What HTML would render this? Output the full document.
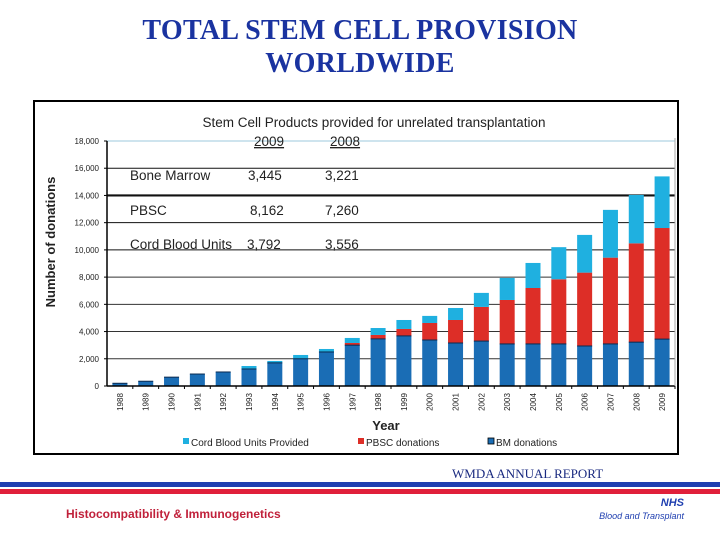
<!DOCTYPE html>
<html><head><meta charset="utf-8"><style>
body{margin:0;width:720px;height:540px;background:#fff;overflow:hidden;position:relative;font-family:"Liberation Sans",sans-serif}
.title{position:absolute;left:0;width:720px;text-align:center;font-family:"Liberation Serif",serif;font-size:28px;font-weight:bold;color:#1a33a0;line-height:33px;top:14px;letter-spacing:0.3px}
</style></head><body>
<div class="title">TOTAL STEM CELL PROVISION<br>WORLDWIDE</div>
<svg width="720" height="540" style="position:absolute;left:0;top:0" id="svg">
<rect x="34" y="101" width="644" height="353" fill="#fff" stroke="#000" stroke-width="2"/>
<text x="374" y="127" font-size="13.5" text-anchor="middle" fill="#222">Stem Cell Products provided for unrelated transplantation</text>
<g id="grid"></g><g id="bars"></g><g id="axes"></g>
<g font-size="13.5" fill="#222">
<text x="254" y="146" text-decoration="underline">2009</text><text x="330" y="146" text-decoration="underline">2008</text>
<text x="130" y="180">Bone Marrow</text><text x="248" y="180">3,445</text><text x="325" y="180">3,221</text>
<text x="130" y="215">PBSC</text><text x="250" y="215">8,162</text><text x="325" y="215">7,260</text>
<text x="130" y="249">Cord Blood Units</text><text x="247" y="249">3,792</text><text x="325" y="249">3,556</text>
</g>
<text transform="translate(55,242) rotate(-90)" font-size="13" font-weight="bold" text-anchor="middle" fill="#222">Number of donations</text>
<text x="386" y="430" font-size="13" font-weight="bold" text-anchor="middle" fill="#222">Year</text>
<g font-size="10" fill="#222">
<g><rect x="183" y="438" width="6" height="6" fill="#1fb0e0"/><text x="191" y="446">Cord Blood Units Provided</text></g>
<g><rect x="358" y="438" width="6" height="6" fill="#dd2e27"/><text x="366" y="446">PBSC donations</text></g>
<g><rect x="488" y="438" width="6" height="6" fill="#1a6db5" stroke="#000" stroke-width="0.8"/><text x="496" y="446">BM donations</text></g>
</g>
<text x="452" y="478" font-family="Liberation Serif" font-size="13" fill="#1a2a80">WMDA ANNUAL REPORT</text>
<rect x="0" y="482" width="720" height="5" fill="#1f3fb0"/>
<rect x="0" y="489" width="720" height="5" fill="#e0203a"/>
<text x="66" y="518" font-size="12" font-weight="bold" fill="#c0203a">Histocompatibility &amp; Immunogenetics</text>
<text x="684" y="506" font-size="11" font-weight="bold" font-style="italic" text-anchor="end" fill="#1f3fb0">NHS</text>
<text x="684" y="519" font-size="9" font-style="italic" text-anchor="end" fill="#1f3fb0">Blood and Transplant</text>
</svg>
<script>
const years=["1988","1989","1990","1991","1992","1993","1994","1995","1996","1997","1998","1999","2000","2001","2002","2003","2004","2005","2006","2007","2008","2009"];
const bm=[200,350,650,880,1030,1250,1700,2000,2500,3000,3460,3680,3380,3160,3300,3090,3090,3090,2940,3090,3221,3445];
const pbsc=[0,0,0,0,0,0,0,0,0,160,290,510,1250,1690,2510,3230,4110,4750,5390,6340,7260,8162];
const cbu=[0,0,0,0,0,220,140,280,220,370,510,660,520,880,1030,1620,1840,2360,2770,3510,3556,3792];
const yTicks=[0,2000,4000,6000,8000,10000,12000,14000,16000,18000];
const NS="http://www.w3.org/2000/svg";
const x0=107,x1=675,yBase=386,yTop=141,yMax=18000;
const band=(x1-x0)/years.length;
function y(v){return yBase-(v/yMax)*(yBase-yTop);}
function xc(i){return x0+band*(i+0.5);}
function mk(tag,attrs,parent){const e=document.createElementNS(NS,tag);for(const k in attrs)e.setAttribute(k,attrs[k]);document.getElementById(parent).appendChild(e);return e;}
yTicks.forEach(t=>{
 if(t>0){const l=mk('line',{x1:x0,x2:x1,y1:y(t),y2:y(t),stroke:t===18000?'#9cc8dc':(t>=10000?'#111':'#333'),'stroke-width':t===14000?2.2:1},'grid');
 
 }
 const tx=mk('text',{x:99,y:y(t)+3,'font-size':8,'text-anchor':'end',fill:'#222'},'axes');tx.textContent=t.toLocaleString('en-US');
 
 
 mk('line',{x1:x0-3,x2:x0,y1:y(t),y2:y(t),stroke:'#000'},'axes');
});
mk('line',{x1:x0,x2:x0,y1:yTop,y2:yBase,stroke:'#000','stroke-width':1.5},'axes');
mk('line',{x1:x0,x2:x1,y1:yBase,y2:yBase,stroke:'#000','stroke-width':1.5},'axes');
mk('line',{x1:x1,x2:x1,y1:yTop-3,y2:yBase,stroke:'#aaa'},'axes');
const bw=15;
years.forEach((yr,i)=>{
 const cx=xc(i);
 const segs=[[0,bm[i],'#1a6db5','bar-bm-'],[bm[i],bm[i]+pbsc[i],'#dd2e27','bar-pbsc-'],[bm[i]+pbsc[i],bm[i]+pbsc[i]+cbu[i],'#1fb0e0','bar-cbu-']];
 segs.forEach(s=>{if(s[1]<=s[0])return;
  const r=mk('rect',{x:cx-bw/2,y:y(s[1]),width:bw,height:y(s[0])-y(s[1]),fill:s[2]},'bars');
  
  });
 mk('line',{x1:cx-bw/2,x2:cx+bw/2,y1:y(bm[i]),y2:y(bm[i]),stroke:'#0a2a50','stroke-width':1},'bars');
 mk('line',{x1:x0+band*(i+1),x2:x0+band*(i+1),y1:yBase,y2:yBase+3,stroke:'#000'},'axes');
 const t=mk('text',{transform:`translate(${cx+3},${yBase+16}) rotate(-90)`,'font-size':8,'text-anchor':'middle',fill:'#222'},'axes');t.textContent=yr;
 
 
});
</script>
</body></html>
